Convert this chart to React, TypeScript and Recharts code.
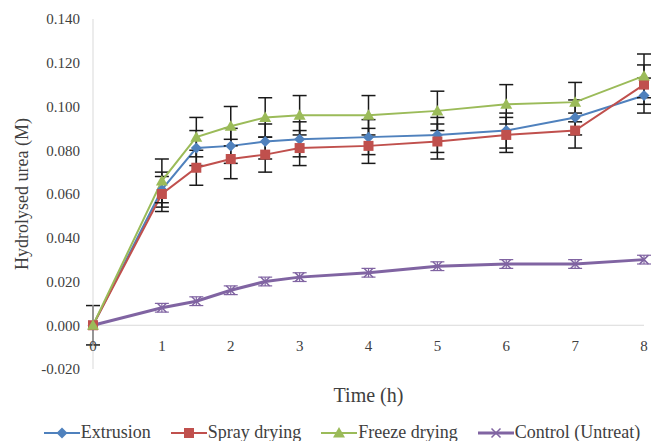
import React from 'react';
import { LineChart, Line, XAxis, YAxis, ErrorBar, Legend, ReferenceLine } from 'recharts';

// sampling times (h)
const times = [0, 1, 1.5, 2, 2.5, 3, 4, 5, 6, 7, 8];

const extrusion = [0, 0.062, 0.081, 0.082, 0.084, 0.085, 0.086, 0.087, 0.089, 0.095, 0.105];
const extrusionErr = [0, 0.008, 0.008, 0.008, 0.008, 0.008, 0.008, 0.008, 0.008, 0.008, 0.008];
const spray = [0, 0.06, 0.072, 0.076, 0.078, 0.081, 0.082, 0.084, 0.087, 0.089, 0.11];
const sprayErr = [0, 0.008, 0.008, 0.009, 0.008, 0.008, 0.008, 0.008, 0.008, 0.008, 0.009];
const freeze = [0, 0.066, 0.086, 0.091, 0.095, 0.096, 0.096, 0.098, 0.101, 0.102, 0.114];
const freezeErr = [0.009, 0.01, 0.009, 0.009, 0.009, 0.009, 0.009, 0.009, 0.009, 0.009, 0.01];
const control = [0, 0.008, 0.011, 0.016, 0.02, 0.022, 0.024, 0.027, 0.028, 0.028, 0.03];
const controlErr = [0, 0.002, 0.002, 0.002, 0.002, 0.002, 0.002, 0.002, 0.002, 0.002, 0.002];

const xTicks = [0, 1, 2, 3, 4, 5, 6, 7, 8];
const yTicks = [-0.02, 0, 0.02, 0.04, 0.06, 0.08, 0.1, 0.12, 0.14];

const data = times.map((t, i) => ({
  t,
  extrusion: extrusion[i],
  extrusionErr: extrusionErr[i],
  spray: spray[i],
  sprayErr: sprayErr[i],
  freeze: freeze[i],
  freezeErr: freezeErr[i],
  control: control[i],
  controlErr: controlErr[i],
}));

const FONT = '"Liberation Serif", "Times New Roman", serif';
const BLUE = '#4F81BD';
const RED = '#C0504D';
const GREEN = '#9BBB59';
const PURPLE = '#8064A2';

const Marker = ({ kind, x, y }: { kind: string; x: number; y: number }) => {
  if (kind === 'diamond')
    return <path d={`M${x},${y - 5.5}L${x + 5.5},${y}L${x},${y + 5.5}L${x - 5.5},${y}Z`} fill={BLUE} />;
  if (kind === 'square')
    return <rect x={x - 5} y={y - 5} width={10} height={10} fill={RED} />;
  if (kind === 'triangle')
    return <path d={`M${x},${y - 6}L${x + 6},${y + 4.5}L${x - 6},${y + 4.5}Z`} fill={GREEN} />;
  return (
    <path d={`M${x - 4.5},${y - 4.5}L${x + 4.5},${y + 4.5}M${x + 4.5},${y - 4.5}L${x - 4.5},${y + 4.5}`}
      stroke={PURPLE} strokeWidth={1.5} fill="none" />
  );
};

const makeDot = (kind: string) => (props: any) => (
  <Marker key={`${kind}-${props.index}`} kind={kind} x={props.cx} y={props.cy} />
);

const legendItems = [
  { label: 'Extrusion', color: BLUE, kind: 'diamond' },
  { label: 'Spray drying', color: RED, kind: 'square' },
  { label: 'Freeze drying', color: GREEN, kind: 'triangle' },
  { label: 'Control (Untreat)', color: PURPLE, kind: 'x' },
];

const renderLegend = () => (
  <div style={{ display: 'flex', justifyContent: 'center', fontFamily: FONT, fontSize: 18, color: '#404040', paddingLeft: 40, paddingTop: 5 }}>
    {legendItems.map((it, i) => (
      <div key={it.label} style={{ display: 'flex', alignItems: 'center', marginRight: i < 3 ? 20 : 0 }}>
        <svg width={36} height={14}>
          <line x1={0} y1={7} x2={36} y2={7} stroke={it.color} strokeWidth={it.kind === 'x' ? 3 : 2} />
          <Marker kind={it.kind} x={18} y={7} />
        </svg>
        <span style={{ marginLeft: 1, whiteSpace: 'nowrap' }}>{it.label}</span>
      </div>
    ))}
  </div>
);

export default function App() {
  return (
    <div style={{ position: 'absolute', left: 0, top: 0, width: 651, height: 441, background: '#fff' }}>
      <LineChart width={651} height={441} data={data} margin={{ top: 19, right: 7, bottom: 0, left: 0 }}>
        <XAxis
          dataKey="t"
          type="number"
          domain={[0, 8]}
          ticks={xTicks}
          axisLine={false}
          tickLine={false}
          height={48}
          tick={{ fontFamily: FONT, fontSize: 15, fill: '#404040', dy: -37 }}
          label={{ value: 'Time (h)', position: 'insideBottom', offset: 15, fontFamily: FONT, fontSize: 20, fill: '#404040' }}
        />
        <YAxis
          type="number"
          domain={[-0.02, 0.14]}
          ticks={yTicks}
          width={93}
          axisLine={{ stroke: '#D9D9D9' }}
          tickLine={false}
          tickMargin={7}
          tickFormatter={(v: number) => v.toFixed(3)}
          tick={{ fontFamily: FONT, fontSize: 15, fill: '#404040' }}
          label={{ value: 'Hydrolysed urea (M)', angle: -90, position: 'insideLeft', offset: 22, textAnchor: 'middle', fontFamily: FONT, fontSize: 18, fill: '#404040' }}
        />
        <ReferenceLine y={0} stroke="#D9D9D9" />
        <Legend verticalAlign="bottom" height={24} content={renderLegend} />
        <Line dataKey="control" stroke={PURPLE} strokeWidth={3} dot={makeDot('x')} isAnimationActive={false}>
          <ErrorBar dataKey="controlErr" width={7} stroke={PURPLE} strokeWidth={1.2} direction="y" />
        </Line>
        <Line dataKey="extrusion" stroke={BLUE} strokeWidth={2} dot={makeDot('diamond')} isAnimationActive={false}>
          <ErrorBar dataKey="extrusionErr" width={7} stroke="#1a1a1a" strokeWidth={1.5} direction="y" />
        </Line>
        <Line dataKey="spray" stroke={RED} strokeWidth={2} dot={makeDot('square')} isAnimationActive={false}>
          <ErrorBar dataKey="sprayErr" width={7} stroke="#1a1a1a" strokeWidth={1.5} direction="y" />
        </Line>
        <Line dataKey="freeze" stroke={GREEN} strokeWidth={2} dot={makeDot('triangle')} isAnimationActive={false}>
          <ErrorBar dataKey="freezeErr" width={7} stroke="#1a1a1a" strokeWidth={1.5} direction="y" />
        </Line>
      </LineChart>
    </div>
  );
}
